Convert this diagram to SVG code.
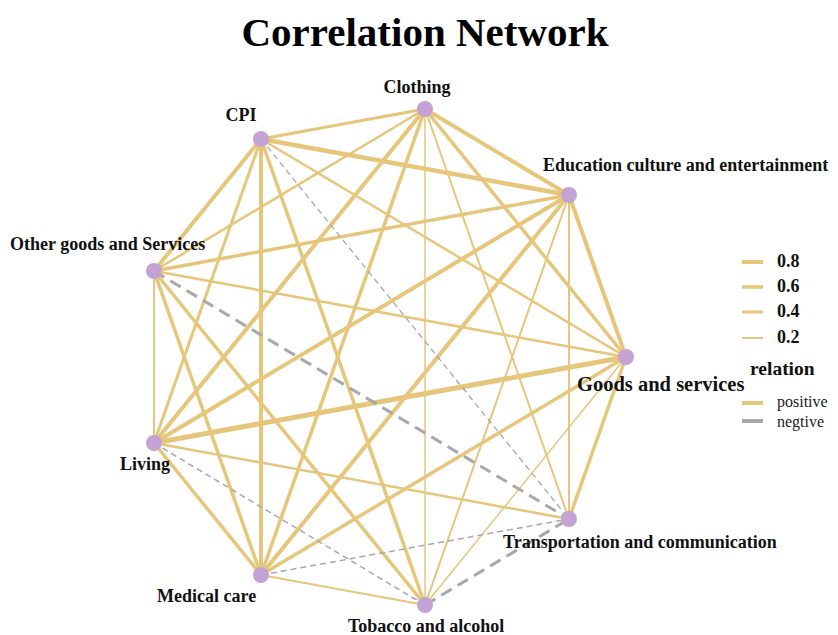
<svg xmlns="http://www.w3.org/2000/svg" width="838" height="635" viewBox="0 0 838 635">
<style>
.pos{stroke:#E6C67A;fill:none;stroke-linecap:butt}
.neg{stroke:#A8A8A8;fill:none}
.nt{stroke-dasharray:6,4}
.nk{stroke-dasharray:12,7}
.node{fill:#C4A2D4}
.lbl{font-family:"Liberation Serif","Times New Roman",serif;font-weight:bold;font-size:18px;fill:#111}
.title{font-family:"Liberation Serif","Times New Roman",serif;font-weight:bold;font-size:41px;fill:#000}
.leg{font-family:"Liberation Serif","Times New Roman",serif;font-weight:bold;font-size:18px;fill:#111}
.legh{font-family:"Liberation Serif","Times New Roman",serif;font-weight:bold;font-size:19.5px;fill:#111}
.legn{font-family:"Liberation Serif","Times New Roman",serif;font-weight:normal;font-size:16px;fill:#222}
</style>
<rect width="838" height="635" fill="#ffffff"/>
<text class="title" x="425" y="46" text-anchor="middle">Correlation Network</text>
<g id="edges">
<line class="pos" x1="425" y1="109" x2="261" y2="139" stroke-width="3"/>
<line class="pos" x1="425" y1="109" x2="569" y2="195" stroke-width="4"/>
<line class="pos" x1="425" y1="109" x2="626" y2="357" stroke-width="3.5"/>
<line class="pos" x1="425" y1="109" x2="154" y2="271" stroke-width="2.5"/>
<line class="pos" x1="425" y1="109" x2="154" y2="443" stroke-width="4"/>
<line class="pos" x1="425" y1="109" x2="261" y2="575" stroke-width="3.5"/>
<line class="pos" x1="425" y1="109" x2="425" y2="605" stroke-width="1.5"/>
<line class="pos" x1="425" y1="109" x2="569" y2="519" stroke-width="2"/>
<line class="pos" x1="261" y1="139" x2="569" y2="195" stroke-width="4.5"/>
<line class="pos" x1="261" y1="139" x2="626" y2="357" stroke-width="2.5"/>
<line class="pos" x1="261" y1="139" x2="154" y2="271" stroke-width="4"/>
<line class="pos" x1="261" y1="139" x2="154" y2="443" stroke-width="3"/>
<line class="pos" x1="261" y1="139" x2="261" y2="575" stroke-width="4"/>
<line class="pos" x1="261" y1="139" x2="425" y2="605" stroke-width="3.5"/>
<line class="pos" x1="569" y1="195" x2="154" y2="271" stroke-width="3.5"/>
<line class="pos" x1="569" y1="195" x2="154" y2="443" stroke-width="4"/>
<line class="pos" x1="569" y1="195" x2="261" y2="575" stroke-width="4"/>
<line class="pos" x1="569" y1="195" x2="425" y2="605" stroke-width="2"/>
<line class="pos" x1="569" y1="195" x2="569" y2="519" stroke-width="2"/>
<line class="pos" x1="569" y1="195" x2="626" y2="357" stroke-width="4"/>
<line class="pos" x1="154" y1="271" x2="626" y2="357" stroke-width="2.5"/>
<line class="pos" x1="154" y1="271" x2="154" y2="443" stroke-width="2"/>
<line class="pos" x1="154" y1="271" x2="261" y2="575" stroke-width="3.5"/>
<line class="pos" x1="154" y1="271" x2="425" y2="605" stroke-width="3.5"/>
<line class="pos" x1="626" y1="357" x2="154" y2="443" stroke-width="5"/>
<line class="pos" x1="626" y1="357" x2="261" y2="575" stroke-width="3.5"/>
<line class="pos" x1="626" y1="357" x2="425" y2="605" stroke-width="1.5"/>
<line class="pos" x1="626" y1="357" x2="569" y2="519" stroke-width="3.5"/>
<line class="pos" x1="154" y1="443" x2="261" y2="575" stroke-width="3.5"/>
<line class="pos" x1="154" y1="443" x2="569" y2="519" stroke-width="2.5"/>
<line class="pos" x1="261" y1="575" x2="425" y2="605" stroke-width="2"/>
<line class="neg nt" x1="261" y1="139" x2="569" y2="519" stroke-width="1.3"/>
<line class="neg nk" x1="154" y1="271" x2="569" y2="519" stroke-width="3"/>
<line class="neg nt" x1="154" y1="443" x2="425" y2="605" stroke-width="1.5"/>
<line class="neg nt" x1="261" y1="575" x2="569" y2="519" stroke-width="1.5"/>
<line class="neg nk" x1="425" y1="605" x2="569" y2="519" stroke-width="3"/>
</g>
<g id="n-clothing"><circle class="node" cx="425" cy="109" r="8"/><text class="lbl" x="417" y="93" text-anchor="middle">Clothing</text></g>
<g id="n-cpi"><circle class="node" cx="261" cy="139" r="8"/><text class="lbl" x="241" y="121" text-anchor="middle">CPI</text></g>
<g id="n-education"><circle class="node" cx="569" cy="195" r="8"/><text class="lbl" x="543" y="171">Education culture and entertainment</text></g>
<g id="n-other"><circle class="node" cx="154" cy="271" r="8"/><text class="lbl" x="10" y="250">Other goods and Services</text></g>
<g id="n-goods"><circle class="node" cx="626" cy="357" r="8"/><text class="lbl" x="577" y="391" style="font-size:20.5px">Goods and services</text></g>
<g id="n-living"><circle class="node" cx="154" cy="443" r="8"/><text class="lbl" x="120" y="470">Living</text></g>
<g id="n-transport"><circle class="node" cx="569" cy="519" r="8"/><text class="lbl" x="503" y="548">Transportation and communication</text></g>
<g id="n-medical"><circle class="node" cx="261" cy="575" r="8"/><text class="lbl" x="157" y="602">Medical care</text></g>
<g id="n-tobacco"><circle class="node" cx="425" cy="605" r="8"/><text class="lbl" x="348" y="632">Tobacco and alcohol</text></g>
<g id="legend">
<line class="pos" x1="742" y1="262" x2="763" y2="262" stroke-width="4"/>
<text class="leg" x="777" y="267">0.8</text>
<line class="pos" x1="742" y1="287" x2="763" y2="287" stroke-width="3.5"/>
<text class="leg" x="777" y="292">0.6</text>
<line class="pos" x1="742" y1="312" x2="763" y2="312" stroke-width="3"/>
<text class="leg" x="777" y="317">0.4</text>
<line class="pos" x1="742" y1="338" x2="763" y2="338" stroke-width="2"/>
<text class="leg" x="777" y="343">0.2</text>
<text class="legh" x="750" y="375">relation</text>
<line class="pos" x1="742" y1="403" x2="763" y2="403" stroke-width="4"/>
<text class="legn" x="777" y="407">positive</text>
<line class="neg" x1="742" y1="421" x2="763" y2="421" stroke-width="4"/>
<text class="legn" x="777" y="427">negtive</text>
</g>
</svg>
